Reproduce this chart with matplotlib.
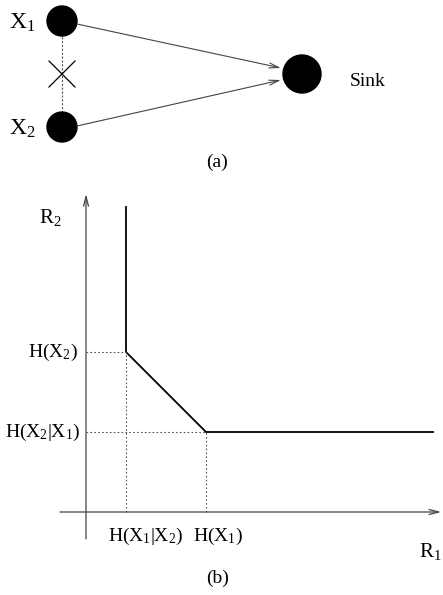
import matplotlib
matplotlib.use("Agg")
import matplotlib.pyplot as plt
from matplotlib.patches import Circle

plt.rcParams['font.family'] = ['Liberation Serif', 'DejaVu Serif']
plt.rcParams['mathtext.fontset'] = 'custom'
plt.rcParams['mathtext.rm'] = 'Liberation Serif'
plt.rcParams['mathtext.it'] = 'Liberation Serif'

# (a) two correlated sources sending to a sink (layout in pixels)
node_names = ['X1', 'X2', 'Sink']
node_x = [62, 62, 302]
node_y = [21, 127, 74]
node_r = [15, 15, 19]
node_labels = [r'$\mathrm{X_1}$', r'$\mathrm{X_2}$', 'Sink']

# (b) Slepian-Wolf rate region, entropies in bits
H_X1_given_X2 = 1.0
H_X1 = 3.0
H_X2_given_X1 = 2.0
H_X2 = 4.0
R1_max = 8.675
R2_max = 7.625

fig = plt.figure(figsize=(4.43, 5.95), dpi=100)

# ---- (a) ----
ax_a = fig.add_axes([0, 410 / 595, 1, 185 / 595])
ax_a.set_xlim(0, 443)
ax_a.set_ylim(185, 0)
ax_a.axis('off')

pos = {n: (x, y) for n, x, y in zip(node_names, node_x, node_y)}
for n, r in zip(node_names, node_r):
    ax_a.add_patch(Circle(pos[n], r, color='black', zorder=3))

# dashed link between the sources, crossed out
ax_a.plot([pos['X1'][0], pos['X2'][0]], [pos['X1'][1], pos['X2'][1]],
          ls=(0, (2, 1.5)), color='#555555', lw=0.8, zorder=1)
cx, cy = pos['X1'][0], (pos['X1'][1] + pos['X2'][1]) / 2
ax_a.plot([cx - 13, cx + 13], [cy - 13, cy + 13], color='black', lw=0.9)
ax_a.plot([cx - 13, cx + 13], [cy + 13, cy - 13], color='black', lw=0.9)

# arrows into the sink
sx, sy = pos['Sink']
for src, dy in [('X1', -6), ('X2', 6)]:
    x0, y0 = pos[src]
    ax_a.annotate('', xy=(sx - 21, sy + dy), xytext=(x0 + 15, y0 + (3 if src == 'X1' else -1)),
                  arrowprops=dict(arrowstyle='->,head_length=0.7,head_width=0.18',
                                  color='#444444', lw=0.8, shrinkA=0, shrinkB=0))

ax_a.text(9, pos['X1'][1] + 2, node_labels[0], fontsize=17, ha='left', va='center')
ax_a.text(9, pos['X2'][1] + 2, node_labels[1], fontsize=17, ha='left', va='center')
ax_a.text(350, 82, node_labels[2], fontsize=14, ha='left', va='center')
ax_a.text(217, 162, '(a)', fontsize=14, ha='center', va='center')

# ---- (b) ----
ax_b = fig.add_axes([0, 0, 1, 410 / 595])
ax_b.set_xlim(-86 / 40, 357 / 40)
ax_b.set_ylim(-83 / 40, 327 / 40)
ax_b.axis('off')

# axes with open arrowheads
ax_b.annotate('', xy=(0, 7.95), xytext=(0, -0.675),
              arrowprops=dict(arrowstyle='->,head_length=0.7,head_width=0.18',
                              color='#444444', lw=0.9, shrinkA=0, shrinkB=0))
ax_b.annotate('', xy=(8.88, 0), xytext=(-0.65, 0),
              arrowprops=dict(arrowstyle='->,head_length=0.7,head_width=0.18',
                              color='#444444', lw=0.9, shrinkA=0, shrinkB=0))

# region boundary
bx = [H_X1_given_X2, H_X1_given_X2, H_X1, R1_max]
by = [R2_max, H_X2, H_X2_given_X1, H_X2_given_X1]
ax_b.plot(bx, by, color='black', lw=1.3, solid_joinstyle='miter')

# dotted guides to the axes
dot = dict(color='#555555', lw=0.8, ls=(0, (1.5, 2)))
ax_b.plot([0, H_X1_given_X2], [H_X2, H_X2], **dot)
ax_b.plot([H_X1_given_X2, H_X1_given_X2], [0, H_X2], **dot)
ax_b.plot([0, H_X1], [H_X2_given_X1, H_X2_given_X1], **dot)
ax_b.plot([H_X1, H_X1], [0, H_X2_given_X1], **dot)

fs = 14
ax_b.text(-0.2, H_X2, r'$\mathrm{H(X_2)}$', fontsize=fs, ha='right', va='center')
ax_b.text(-0.15, H_X2_given_X1, r'$\mathrm{H(X_2|X_1)}$', fontsize=fs, ha='right', va='center')
ax_b.text(H_X1_given_X2 + 0.5, -0.6, r'$\mathrm{H(X_1|X_2)}$', fontsize=fs, ha='center', va='center')
ax_b.text(H_X1 + 0.3, -0.6, r'$\mathrm{H(X_1)}$', fontsize=fs, ha='center', va='center')
ax_b.text(-0.9, 7.35, r'$\mathrm{R_2}$', fontsize=15, ha='center', va='center')
ax_b.text(8.6, -1.0, r'$\mathrm{R_1}$', fontsize=15, ha='center', va='center')
ax_b.text(3.3, -1.65, '(b)', fontsize=14, ha='center', va='center')

fig.savefig('out.png', dpi=100)
